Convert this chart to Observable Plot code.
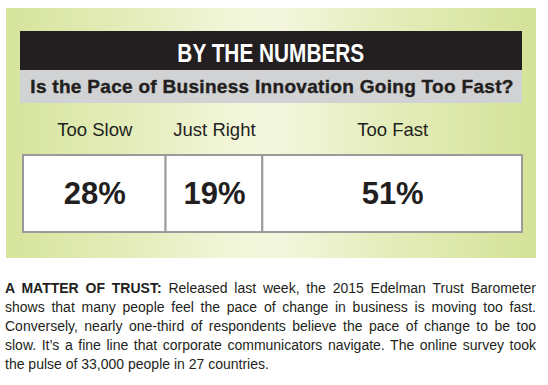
<!DOCTYPE html>
<html>
<head>
<meta charset="utf-8">
<script src="https://cdn.jsdelivr.net/npm/d3@7"></script>
<script src="https://cdn.jsdelivr.net/npm/@observablehq/plot@0.6"></script>
<style>
  html, body { margin: 0; padding: 0; background: #fff; }
  body { width: 548px; height: 385px; position: relative; overflow: hidden; font-family: "Liberation Sans", Arial, sans-serif; color: #231f20; }
  #panel { position: absolute; left: 6px; top: 8px; width: 530px; height: 250px;
    background: linear-gradient(90deg, #d6e49c 0%, #e3ecb9 22%, #f2f6da 44%, #f3f6dc 52%, #e4edbb 72%, #d4e298 100%); }
  #banner { position: absolute; left: 14px; top: 23px; width: 502px; height: 39px; background: #231f20; color: #fff;
    text-align: center; font-family: "Liberation Sans", Arial, sans-serif; font-weight: bold;
    font-size: 26px; line-height: 44px; overflow: hidden; }
  #banner span { display: inline-block; transform: scaleX(0.8); transform-origin: center; }
  #sub { position: absolute; left: 14px; top: 62px; width: 502px; height: 33px; background: #d1d2d4;
    text-align: center; font-weight: bold; font-size: 19px; letter-spacing: 0.3px; line-height: 33px; white-space: nowrap;
    -webkit-text-stroke: 0.4px #231f20; padding-left: 2px; box-sizing: border-box; }
  #chart { position: absolute; left: 0; top: 95px; }
  #caption { position: absolute; left: 5px; top: 278.5px; width: 531px; font-size: 14px; line-height: 19.2px; }
  #caption div { white-space: nowrap; text-align: justify; text-align-last: justify; }
  #caption div.last { text-align-last: left; }
</style>
</head>
<body>
<div id="panel">
  <div id="banner"><span></span></div>
  <div id="sub"></div>
  <div id="chart"></div>
</div>
<div id="caption"></div>
<script>
const title = "BY THE NUMBERS";
const subtitle = "Is the Pace of Business Innovation Going Too Fast?";
const categories = ["Too Slow", "Just Right", "Too Fast"];
const shares = [28, 19, 51];
const captionLead = "A MATTER OF TRUST:";
const captionLines = [
  " Released last week, the 2015 Edelman Trust Barometer",
  "shows that many people feel the pace of change in business is moving too fast.",
  "Conversely, nearly one-third of respondents believe the pace of change to be too",
  "slow. It\u2019s a fine line that corporate communicators navigate. The online survey took",
  "the pulse of 33,000 people in 27 countries."
];

document.querySelector("#banner span").textContent = title;
document.getElementById("sub").textContent = subtitle;

const data = categories.map((c, i) => ({category: c, value: shares[i]}));
const total = d3.sum(shares);

const chart = Plot.plot({
  width: 530,
  height: 155,
  marginTop: 52,
  marginBottom: 26,
  marginLeft: 17,
  marginRight: 14,
  style: {background: "transparent", fontFamily: "'Liberation Sans', Arial, sans-serif"},
  x: {domain: [0, total], axis: null},
  marks: [
    Plot.rectX(data, {x: "value", fill: "white", stroke: "#9a9a9a", strokeWidth: 2}),
    Plot.text(data, Plot.stackX({x: "value", text: d => d.value + "%", frameAnchor: "middle",
      lineAnchor: "middle", fontSize: 31, fontWeight: "bold", fill: "#231f20"})),
    Plot.text(data, Plot.stackX({x: "value", text: "category", frameAnchor: "top",
      lineAnchor: "middle", dy: -25, fontSize: 18.5, fill: "#231f20"}))
  ]
});
document.getElementById("chart").append(chart);

const cap = document.getElementById("caption");
captionLines.forEach((line, i) => {
  const div = document.createElement("div");
  if (i === captionLines.length - 1) div.className = "last";
  if (i === 0) {
    const b = document.createElement("b");
    b.textContent = captionLead;
    div.append(b);
  }
  div.append(document.createTextNode(line));
  cap.append(div);
});
</script>
</body>
</html>
